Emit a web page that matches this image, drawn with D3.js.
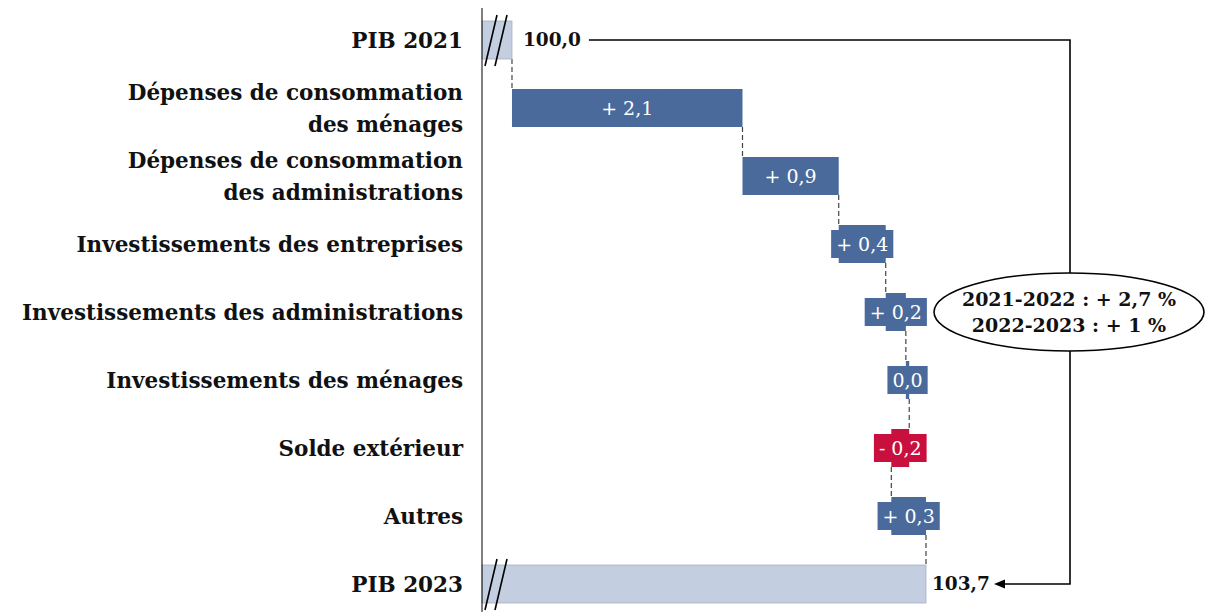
<!DOCTYPE html>
<html>
<head>
<meta charset="utf-8">
<script src="https://cdn.jsdelivr.net/npm/d3@7"></script>
<style>
  body { margin: 0; background: #fff; }
  text { font-family: "DejaVu Serif", "Liberation Serif", serif; }
</style>
</head>
<body>
<div id="chart"></div>
<script>
// categories (one row each, "|" = line break)
const categories = [
  "PIB 2021",
  "Dépenses de consommation|des ménages",
  "Dépenses de consommation|des administrations",
  "Investissements des entreprises",
  "Investissements des administrations",
  "Investissements des ménages",
  "Solde extérieur",
  "Autres",
  "PIB 2023"
];
const startValue = 100.0;
const endValue = 103.7;
// contributions to growth, in points
const contributions = [2.06, 0.86, 0.42, 0.18, 0.03, -0.16, 0.31];
const growthNotes = ["2021-2022 : + 2,7 %", "2022-2023 : + 1 %"];

const width = 1206, height = 612;
const axisX = 482;

const svg = d3.select("#chart").append("svg")
  .attr("width", width).attr("height", height);

const defs = svg.append("defs");
defs.append("marker")
  .attr("id", "arrow")
  .attr("viewBox", "0 0 10 10")
  .attr("refX", 1).attr("refY", 5)
  .attr("markerWidth", 7).attr("markerHeight", 7)
  .attr("orient", "auto-start-reverse")
  .append("path").attr("d", "M0,1 L10,5 L0,9 z").attr("fill", "#000");

const x = d3.scaleLinear().domain([99.732, endValue]).range([axisX, 926]);
const y = d3.scaleBand()
  .domain(d3.range(categories.length))
  .range([21, 603])
  .paddingInner(30 / 68)
  .paddingOuter(0);
const bw = y.bandwidth();
const yc = (i) => y(i) + bw / 2;

const fmt = (v) => {
  const r = Math.round(v * 10) / 10;
  const s = Math.abs(r).toFixed(1).replace(".", ",");
  if (r > 0) return "+ " + s;
  if (r < 0) return "- " + s;
  return s;
};
const fmtTotal = (v) => v.toFixed(1).replace(".", ",");

// build waterfall steps
let cum = startValue;
const steps = contributions.map((v, k) => {
  const from = cum;
  cum += v;
  return { i: k + 1, v, from, to: cum };
});

const blue = "#4a6a9b", red = "#c90f3e", light = "#c3cee0";

// connectors
const connectors = [{ xv: startValue, y0: y(0) + bw, y1: y(1) }];
steps.forEach((s) => connectors.push({ xv: s.to, y0: y(s.i) + bw, y1: y(s.i + 1) }));
svg.selectAll(".conn").data(connectors).enter().append("line")
  .attr("class", "conn")
  .attr("x1", (d) => x(d.xv)).attr("x2", (d) => x(d.xv))
  .attr("y1", (d) => d.y0).attr("y2", (d) => d.y1)
  .attr("stroke", "#444").attr("stroke-width", 1.2)
  .attr("stroke-dasharray", "5,3");

// total bars
const totals = [{ i: 0, v: startValue }, { i: categories.length - 1, v: endValue }];
svg.selectAll(".total").data(totals).enter().append("rect")
  .attr("class", "total")
  .attr("x", axisX)
  .attr("y", (d) => y(d.i))
  .attr("width", (d) => x(d.v) - axisX)
  .attr("height", bw)
  .attr("fill", light)
  .attr("stroke", "#a8b0bd").attr("stroke-width", 0.8);

// axis break marks
totals.forEach((d) => {
  [0, 10].forEach((off) => {
    svg.append("line")
      .attr("x1", axisX + 3 + off).attr("y1", y(d.i) + bw + 7)
      .attr("x2", axisX + 15 + off).attr("y2", y(d.i) - 6)
      .attr("stroke", "#000").attr("stroke-width", 1.6);
  });
});

// contribution bars
const g = svg.selectAll(".step").data(steps).enter().append("g").attr("class", "step");
g.append("rect")
  .attr("x", (d) => x(Math.min(d.from, d.to)))
  .attr("y", (d) => y(d.i))
  .attr("width", (d) => Math.max(2, Math.abs(x(d.to) - x(d.from))))
  .attr("height", bw)
  .attr("fill", (d) => (d.v < 0 ? red : blue));

const labelRects = g.append("rect")
  .attr("fill", (d) => (d.v < 0 ? red : blue));
const labels = g.append("text")
  .attr("x", (d) => (x(d.from) + x(d.to)) / 2)
  .attr("y", (d) => yc(d.i))
  .attr("dy", "0.35em")
  .attr("text-anchor", "middle")
  .attr("fill", "#fff")
  .attr("font-size", 19)
  .text((d) => fmt(d.v));
labels.each(function (d, k) {
  const w = this.getComputedTextLength();
  d3.select(labelRects.nodes()[k])
    .attr("x", (x(d.from) + x(d.to)) / 2 - w / 2 - 5)
    .attr("y", yc(d.i) - 14)
    .attr("width", w + 10)
    .attr("height", 28);
});

// vertical axis line
svg.append("line")
  .attr("x1", axisX).attr("x2", axisX)
  .attr("y1", 8).attr("y2", height)
  .attr("stroke", "#000").attr("stroke-width", 1);

// category labels
const cat = svg.selectAll(".cat").data(categories).enter().append("text")
  .attr("class", "cat")
  .attr("text-anchor", "end")
  .attr("font-weight", "bold")
  .attr("font-size", 21.5)
  .attr("fill", "#111");
cat.each(function (d, i) {
  const lines = d.split("|");
  const t = d3.select(this);
  lines.forEach((ln, k) => {
    t.append("tspan")
      .attr("x", 463)
      .attr("y", yc(i) + (k - (lines.length - 1) / 2) * 32)
      .attr("dy", "0.35em")
      .text(ln);
  });
});

// total value labels
const totLab = svg.selectAll(".totlab").data(totals).enter().append("text")
  .attr("class", "totlab")
  .attr("x", (d) => x(d.v) + (d.i === 0 ? 11 : 6))
  .attr("y", (d) => yc(d.i))
  .attr("dy", "0.35em")
  .attr("font-weight", "bold")
  .attr("font-size", 18.5)
  .attr("fill", "#111")
  .text((d) => fmtTotal(d.v));

// connecting arrow between totals
const loopX = 1070;
const w0 = totLab.nodes()[0].getComputedTextLength();
const w1 = totLab.nodes()[1].getComputedTextLength();
const x0 = x(startValue) + 11 + w0 + 8;
const x1 = x(endValue) + 6 + w1 + 14;
svg.append("path")
  .attr("d", `M${x0},${yc(0)} H${loopX} V${yc(categories.length - 1)} H${x1}`)
  .attr("fill", "none").attr("stroke", "#000").attr("stroke-width", 1.6)
  .attr("marker-end", "url(#arrow)");

// growth note ellipse
const ey = yc(4);
svg.append("ellipse")
  .attr("cx", loopX - 1).attr("cy", ey)
  .attr("rx", 135).attr("ry", 39)
  .attr("fill", "#fff").attr("stroke", "#000").attr("stroke-width", 1.6);
svg.selectAll(".note").data(growthNotes).enter().append("text")
  .attr("class", "note")
  .attr("x", loopX - 1)
  .attr("y", (d, k) => ey - 13 + k * 26)
  .attr("dy", "0.35em")
  .attr("text-anchor", "middle")
  .attr("font-weight", "bold")
  .attr("font-size", 19)
  .attr("fill", "#111")
  .text((d) => d);
</script>
</body>
</html>
